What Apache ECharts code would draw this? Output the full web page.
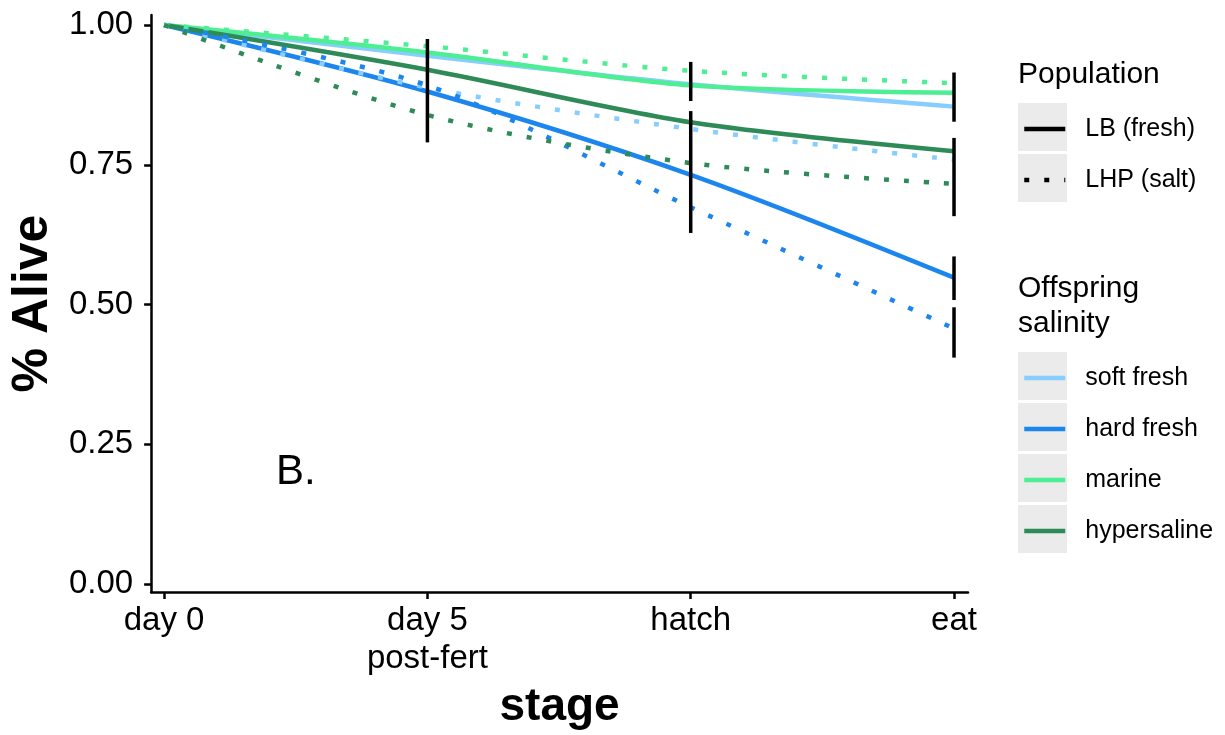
<!DOCTYPE html>
<html>
<head>
<meta charset="utf-8">
<script src="https://cdn.jsdelivr.net/npm/echarts@6/dist/echarts.min.js"></script>
<style>
html,body{margin:0;padding:0;background:#fff;}
#chart{width:1225px;height:735px;}
</style>
</head>
<body>
<div id="chart"></div>
<script>
// ---- data ----
const stages = [0, 1, 2, 3];
const stageLabels = ['day 0', 'day 5\npost-fert', 'hatch', 'eat'];
const yTicks = [0, 0.25, 0.5, 0.75, 1.0];

const salinities = ['soft fresh', 'hard fresh', 'marine', 'hypersaline'];
const salinityColors = ['#87CEFF', '#1C86EE', '#4EEE94', '#2E8B57'];

// LB (fresh) population, solid lines
const lbSoftFresh   = [1.0, 0.945, 0.894, 0.854];
const lbHardFresh   = [1.0, 0.881, 0.732, 0.548];
const lbMarine      = [1.0, 0.951, 0.892, 0.879];
const lbHypersaline = [1.0, 0.920, 0.826, 0.774];

// LHP (salt) population, dotted lines
const lhpSoftFresh   = [1.0, 0.888, 0.814, 0.759];
const lhpHardFresh   = [1.0, 0.892, 0.674, 0.457];
const lhpMarine      = [1.0, 0.962, 0.918, 0.896];
const lhpHypersaline = [1.0, 0.839, 0.753, 0.716];

// error bar segments: [stage, low, high]
const errStage = [1, 2, 2, 3, 3, 3, 3];
const errLow   = [0.790, 0.864, 0.628, 0.827, 0.658, 0.508, 0.405];
const errHigh  = [0.975, 0.934, 0.846, 0.915, 0.798, 0.586, 0.495];

const populations = ['LB (fresh)', 'LHP (salt)'];
const annotation = {x: 0.5, y: 0.2, text: 'B.'};

// ---- chart ----
const FONT = "'Liberation Sans', Arial, Helvetica, sans-serif";
const chart = echarts.init(document.getElementById('chart'), null, {renderer: 'canvas'});

function pairs(vals) { return stages.map((s, i) => [s, vals[i]]); }

const lbSets = [lbSoftFresh, lbHardFresh, lbMarine, lbHypersaline];
const lhpSets = [lhpSoftFresh, lhpHardFresh, lhpMarine, lhpHypersaline];
const DOT = [5, 15];
const LW = 4.5;

const series = [];
lbSets.forEach((vals, i) => {
  series.push({
    name: salinities[i], type: 'line', data: pairs(vals), symbol: 'none',
    smooth: 0.3, color: salinityColors[i],
    lineStyle: {color: salinityColors[i], width: LW, type: 'solid'}, z: 3
  });
});
lhpSets.forEach((vals, i) => {
  series.push({
    name: salinities[i], type: 'line', data: pairs(vals), symbol: 'none',
    smooth: 0.3, color: salinityColors[i],
    lineStyle: {color: salinityColors[i], width: LW, type: DOT, cap: 'butt'}, z: 3
  });
});
// population legend dummy series
series.push({
  name: populations[0], type: 'line', data: [], symbol: 'none', color: '#000',
  lineStyle: {color: '#000', width: LW, type: 'solid'}
});
series.push({
  name: populations[1], type: 'line', data: [], symbol: 'none', color: '#000',
  lineStyle: {color: '#000', width: LW, type: DOT, cap: 'butt'}
});
// error bars
series.push({
  name: 'errorbars', type: 'custom',
  data: errStage.map((s, i) => [s, errLow[i], errHigh[i]]),
  encode: {x: 0, y: [1, 2]},
  z: 5,
  renderItem: function (params, api) {
    const p1 = api.coord([api.value(0), api.value(1)]);
    const p2 = api.coord([api.value(0), api.value(2)]);
    return {
      type: 'line',
      shape: {x1: p1[0], y1: p1[1], x2: p2[0], y2: p2[1]},
      style: {stroke: '#000', lineWidth: 3.5}
    };
  }
});
// annotation
series.push({
  name: 'annot', type: 'scatter', data: [[annotation.x, annotation.y]],
  symbol: 'circle', symbolSize: 0, itemStyle: {color: '#000', opacity: 1}, silent: true, z: 6,
  label: {show: true, position: 'inside', formatter: annotation.text,
          fontSize: 42, color: '#000', opacity: 1, fontFamily: FONT}
});

const legendCommon = {
  orient: 'vertical', padding: 0, itemWidth: 41, itemHeight: 48, itemGap: 3,
  selectedMode: false,
  itemStyle: {opacity: 0, borderWidth: 0},
  lineStyle: {width: LW},
  textStyle: {fontSize: 25, lineHeight: 48, color: '#000', fontFamily: FONT, padding: [0, 0, 0, 15]}
};

const keyRects = [];
[103, 154].forEach(t => keyRects.push({type: 'rect', left: 1018, top: t,
  shape: {width: 49, height: 48}, style: {fill: '#EBEBEB'}, z: 0}));
[352, 403, 454, 505].forEach(t => keyRects.push({type: 'rect', left: 1018, top: t,
  shape: {width: 49, height: 48}, style: {fill: '#EBEBEB'}, z: 0}));

chart.setOption({
  animation: false,
  backgroundColor: '#fff',
  textStyle: {fontFamily: FONT},
  grid: {left: 150, right: 257, top: 15, bottom: 142, containLabel: false},
  xAxis: {
    type: 'value', min: -0.0493, max: 3.0531,
    name: 'stage', nameLocation: 'middle', nameGap: 92,
    nameTextStyle: {fontSize: 46, fontWeight: 'bold', color: '#000', fontFamily: FONT},
    axisLine: {onZero: false, lineStyle: {color: '#000', width: 2.5}},
    axisTick: {customValues: stages, length: 7, lineStyle: {color: '#000', width: 2.5}},
    axisLabel: {customValues: stages, formatter: v => stageLabels[Math.round(v)],
      fontSize: 33, lineHeight: 38, color: '#000', margin: 10, fontFamily: FONT},
    splitLine: {show: false}
  },
  yAxis: {
    type: 'value', min: -0.0143, max: 1.0179,
    name: '% Alive', nameLocation: 'middle', nameGap: 92,
    nameTextStyle: {fontSize: 50, fontWeight: 'bold', color: '#000', fontFamily: FONT},
    axisLine: {onZero: false, show: true, lineStyle: {color: '#000', width: 2.5}},
    axisTick: {show: true, customValues: yTicks, length: 7, lineStyle: {color: '#000', width: 2.5}},
    axisLabel: {customValues: yTicks, formatter: v => v.toFixed(2),
      fontSize: 33, color: '#000', margin: 18, fontFamily: FONT},
    splitLine: {show: false}
  },
  legend: [
    Object.assign({}, legendCommon, {left: 1022, top: 105, data: [
      {name: populations[0], lineStyle: {type: 'solid', width: LW, color: '#000'}},
      {name: populations[1], lineStyle: {type: DOT, width: LW, color: '#000', cap: 'butt'}}
    ]}),
    Object.assign({}, legendCommon, {left: 1022, top: 354, data: salinities.map((s, i) => (
      {name: s, lineStyle: {type: 'solid', width: LW, color: salinityColors[i]}}))})
  ],
  graphic: keyRects.concat([
    {type: 'text', left: 1018, top: 60, z: 10,
     style: {text: 'Population', fontSize: 30, fill: '#000', fontFamily: FONT}},
    {type: 'text', left: 1018, top: 271, z: 10,
     style: {text: 'Offspring\nsalinity', fontSize: 30, lineHeight: 35, fill: '#000', fontFamily: FONT}}
  ]),
  series: series
});
</script>
</body>
</html>
